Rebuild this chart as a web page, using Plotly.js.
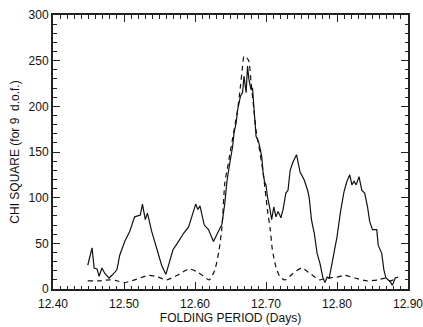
<!DOCTYPE html>
<html>
<head>
<meta charset="utf-8">
<script src="https://cdn.plot.ly/plotly-3.0.1.min.js"></script>
<style>
  html, body { margin: 0; padding: 0; background: #fff; }
  #chart { width: 423px; height: 327px; }
</style>
</head>
<body>
<div id="chart"></div>
<script>
// observed chi-square (solid)
const periodObs = [12.449, 12.455, 12.458, 12.462, 12.465, 12.469, 12.473, 12.479, 12.483, 12.490,
  12.494, 12.501, 12.508, 12.515, 12.523, 12.526, 12.530, 12.533, 12.539, 12.546,
  12.553, 12.559, 12.564, 12.569, 12.575, 12.584, 12.591, 12.598, 12.601, 12.604,
  12.607, 12.613, 12.619, 12.626, 12.633, 12.638, 12.642, 12.645, 12.649, 12.653,
  12.655, 12.658, 12.660, 12.664, 12.667, 12.669, 12.672, 12.674, 12.676, 12.679,
  12.681, 12.683, 12.686, 12.690, 12.694, 12.696, 12.698, 12.700, 12.702, 12.705,
  12.708, 12.711, 12.714, 12.717, 12.721, 12.724, 12.728, 12.731, 12.734, 12.738,
  12.743, 12.748, 12.754, 12.759, 12.761, 12.764, 12.768, 12.772, 12.776, 12.780,
  12.783, 12.786, 12.789, 12.793, 12.797, 12.800, 12.805, 12.810, 12.814, 12.818,
  12.821, 12.824, 12.827, 12.831, 12.835, 12.839, 12.843, 12.846, 12.850, 12.856,
  12.858, 12.863, 12.866, 12.869, 12.875, 12.878, 12.882, 12.886];
const chiObs = [26, 45, 23, 22, 14, 23, 17, 12, 15, 21,
  37, 52, 63, 79, 81, 93, 76, 83, 63, 43,
  26, 16, 30, 43, 50, 61, 68, 87, 93, 87,
  91, 70, 65, 52, 63, 71, 94, 118, 138, 156,
  171, 182, 196, 211, 215, 233, 215, 244, 229, 218,
  220, 196, 167, 160, 145, 127, 117, 114, 101, 90,
  76, 90, 79, 85, 78, 87, 105, 108, 130, 139,
  147, 128, 119, 107, 99, 76, 61, 39, 28, 13,
  7, 13, 12, 28, 43, 57, 85, 107, 118, 125,
  114, 118, 114, 123, 108, 105, 90, 74, 65, 65,
  48, 39, 21, 12, 8, 4, 12, 13];

// model chi-square (dashed)
const periodModel = [12.449, 12.465, 12.480, 12.490, 12.500, 12.515, 12.535, 12.548, 12.560, 12.575,
  12.592, 12.605, 12.620, 12.628, 12.634, 12.638, 12.642, 12.647, 12.655, 12.660,
  12.664, 12.667, 12.669, 12.673, 12.676, 12.679, 12.683, 12.686, 12.690, 12.696,
  12.702, 12.706, 12.709, 12.714, 12.720, 12.727, 12.738, 12.750, 12.762, 12.776,
  12.785, 12.800, 12.811, 12.825, 12.842, 12.858, 12.868, 12.875, 12.884];
const chiModel = [9, 9, 10, 9, 7, 10, 15, 13, 10, 15,
  22, 18, 10, 21, 43, 68, 116, 138, 174, 196,
  222, 244, 255, 253, 249, 226, 196, 174, 156, 127,
  87, 65, 43, 24, 13, 10, 17, 23, 17, 10,
  12, 13, 15, 12, 9, 10, 12, 9, 12];

const xTicks = [12.40, 12.50, 12.60, 12.70, 12.80, 12.90];
const xTickText = ['12.40', '12.50', '12.60', '12.70', '12.80', '12.90'];
const yTicks = [0, 50, 100, 150, 200, 250, 300];

const obsTrace = {
  x: periodObs, y: chiObs,
  type: 'scatter', mode: 'lines',
  line: {color: '#111', width: 1.2},
  hoverinfo: 'x+y'
};

const modelTrace = {
  x: periodModel, y: chiModel,
  type: 'scatter', mode: 'lines',
  line: {color: '#111', width: 1.2, dash: '5px,4px', shape: 'spline', smoothing: 0.6},
  hoverinfo: 'x+y'
};

const axisCommon = {
  showgrid: false, zeroline: false,
  showline: true, linecolor: '#222', linewidth: 2,
  mirror: 'ticks', ticks: 'inside', ticklen: 7, tickwidth: 1, tickcolor: '#222',
  ticklabeloverflow: 'allow',
  tickfont: {family: 'Liberation Sans, Arial, sans-serif', size: 12, color: '#111'}
};

const layout = {
  width: 423, height: 327,
  margin: {l: 53, r: 15, t: 15, b: 38},
  paper_bgcolor: '#fff', plot_bgcolor: '#fff',
  showlegend: false,
  xaxis: Object.assign({}, axisCommon, {
    range: [12.40, 12.90],
    tickvals: xTicks, ticktext: xTickText,
    ticklabelstandoff: 3,
    minor: {dtick: 0.01, ticks: 'inside', ticklen: 3.5, tickwidth: 1, tickcolor: '#222'},
    title: {text: 'FOLDING PERIOD (Days)', standoff: 1,
      font: {family: 'Liberation Sans, Arial, sans-serif', size: 12, color: '#111'}}
  }),
  yaxis: Object.assign({}, axisCommon, {
    range: [0, 300],
    tickvals: yTicks,
    minor: {dtick: 10, ticks: 'inside', ticklen: 3.5, tickwidth: 1, tickcolor: '#222'},
    title: {text: 'CHI SQUARE (for 9  d.o.f.)', standoff: 6,
      font: {family: 'Liberation Sans, Arial, sans-serif', size: 12, color: '#111'}}
  })
};

Plotly.newPlot('chart', [modelTrace, obsTrace], layout, {displayModeBar: false, staticPlot: true});
</script>
</body>
</html>
